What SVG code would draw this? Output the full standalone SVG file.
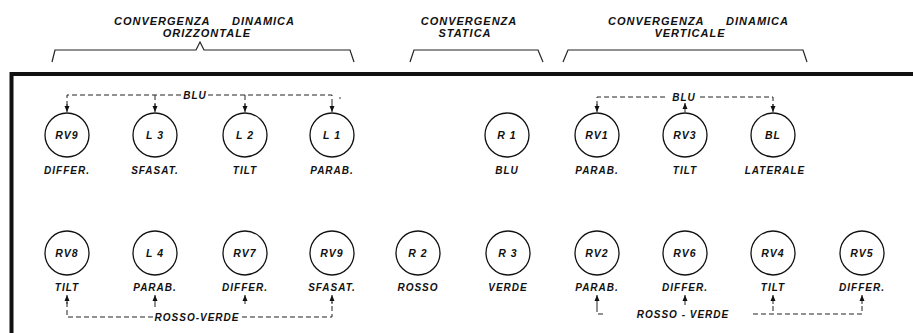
<svg xmlns="http://www.w3.org/2000/svg" width="913" height="333" viewBox="0 0 913 333">
<defs>
<style>
text{font-family:"Liberation Sans",Arial,sans-serif;font-style:italic;font-weight:bold;fill:#111;}
.t{font-size:11px;letter-spacing:1px;}
.n{font-size:10.5px;letter-spacing:1px;text-anchor:middle;}
.l{font-size:10px;letter-spacing:1px;text-anchor:middle;}
.c{fill:#fff;stroke:#111;stroke-width:1.3;}
.d{fill:none;stroke:#222;stroke-width:1;stroke-dasharray:5,3;}
.s{fill:none;stroke:#222;stroke-width:1;marker-end:url(#ah);}
.b{fill:none;stroke:#222;stroke-width:1.2;}
</style>
<marker id="ah" viewBox="0 0 6 6" refX="6" refY="3" markerWidth="6" markerHeight="6" orient="auto" markerUnits="userSpaceOnUse">
<path d="M0,0.5 L6,3 L0,5.5 Z" fill="#111"/>
</marker>
</defs>
<rect width="913" height="333" fill="#fff"/>

<g id="titles">
<text class="t" y="25"><tspan x="114">CONVERGENZA</tspan><tspan x="232">DINAMICA</tspan></text>
<text class="t" x="207" y="37" text-anchor="middle">ORIZZONTALE</text>
<text class="t" x="469" y="25" text-anchor="middle">CONVERGENZA</text>
<text class="t" x="465" y="37" text-anchor="middle">STATICA</text>
<text class="t" y="25"><tspan x="608">CONVERGENZA</tspan><tspan x="726">DINAMICA</tspan></text>
<text class="t" x="690" y="37" text-anchor="middle">VERTICALE</text>
</g>

<g id="brackets">
<path class="b" d="M52,62 L55,50 L196,50 L200,42 L204,50 L350,50 L354,62"/>
<path class="b" d="M410,62 L414,50 L538,50 L543,62"/>
<path class="b" d="M563,62 L568,50 L803,50 L807,62"/>
</g>

<g id="frame">
<path d="M10,74 L913,74" stroke="#111" stroke-width="4" fill="none"/>
<path d="M11.5,72 L11.5,333" stroke="#111" stroke-width="4" fill="none"/>
</g>

<g id="connectors">
<path class="d" d="M67,106 L67,95 L182,95 M208,95 L332,95 L332,106"/>
<path class="d" d="M155,95 L155,106 M245,95 L245,106"/>
<circle cx="340" cy="98" r="0.8" fill="#222"/>
<text class="l" x="195" y="99">BLU</text>
<path class="s" d="M67,104 L67,112"/>
<path class="s" d="M155,104 L155,112"/>
<path class="s" d="M245,104 L245,112"/>
<path class="s" d="M332,104 L332,112"/>

<path class="d" d="M597,106 L597,97 L668,97 M700,97 L773,97 L773,106"/>
<text class="l" x="684" y="101">BLU</text>
<path class="s" d="M597,104 L597,112"/>
<path class="s" d="M773,104 L773,112"/>
<path class="s" d="M685,112 L685,103"/>

<path class="d" d="M67,302 L67,317 L153,317 M242,317 L332,317 L332,302"/>
<path class="s" d="M67,304 L67,295"/>
<path class="s" d="M155,307 L155,295"/>
<path class="s" d="M245,304 L245,295"/>
<path class="s" d="M332,304 L332,295"/>
<text class="l" x="197" y="321">ROSSO-VERDE</text>

<path class="s" d="M597,307 L597,295"/>
<path class="d" d="M597,307 L597,314 L604,314"/>
<path class="s" d="M685,305 L685,295"/>
<text class="l" x="683" y="318">ROSSO - VERDE</text>
<path class="s" d="M773,304 L773,295"/>
<path class="d" d="M753,314 L862,314 L862,303 M773,306 L773,314"/>
<path class="s" d="M862,304 L862,295"/>
</g>

<g id="RV9a"><circle class="c" cx="67" cy="135" r="22"/><text class="n" x="67" y="139">RV9</text><text class="l" x="67" y="174">DIFFER.</text></g>
<g id="L3"><circle class="c" cx="155" cy="135" r="22"/><text class="n" x="155" y="139">L 3</text><text class="l" x="155" y="174">SFASAT.</text></g>
<g id="L2"><circle class="c" cx="245" cy="135" r="22"/><text class="n" x="245" y="139">L 2</text><text class="l" x="245" y="174">TILT</text></g>
<g id="L1"><circle class="c" cx="332" cy="135" r="22"/><text class="n" x="332" y="139">L 1</text><text class="l" x="332" y="174">PARAB.</text></g>
<g id="R1"><circle class="c" cx="507" cy="135" r="22"/><text class="n" x="507" y="139">R 1</text><text class="l" x="507" y="174">BLU</text></g>
<g id="RV1"><circle class="c" cx="597" cy="135" r="22"/><text class="n" x="597" y="139">RV1</text><text class="l" x="597" y="174">PARAB.</text></g>
<g id="RV3"><circle class="c" cx="685" cy="135" r="22"/><text class="n" x="685" y="139">RV3</text><text class="l" x="685" y="174">TILT</text></g>
<g id="BL"><circle class="c" cx="773" cy="135" r="22"/><text class="n" x="773" y="139">BL</text><text class="l" x="775" y="174">LATERALE</text></g>

<g id="RV8"><circle class="c" cx="67" cy="253" r="22"/><text class="n" x="67" y="257">RV8</text><text class="l" x="67" y="291">TILT</text></g>
<g id="L4"><circle class="c" cx="155" cy="253" r="22"/><text class="n" x="155" y="257">L 4</text><text class="l" x="155" y="291">PARAB.</text></g>
<g id="RV7"><circle class="c" cx="245" cy="253" r="22"/><text class="n" x="245" y="257">RV7</text><text class="l" x="245" y="291">DIFFER.</text></g>
<g id="RV9b"><circle class="c" cx="332" cy="253" r="22"/><text class="n" x="332" y="257">RV9</text><text class="l" x="332" y="291">SFASAT.</text></g>
<g id="R2"><circle class="c" cx="418" cy="253" r="22"/><text class="n" x="418" y="257">R 2</text><text class="l" x="418" y="291">ROSSO</text></g>
<g id="R3"><circle class="c" cx="508" cy="253" r="22"/><text class="n" x="508" y="257">R 3</text><text class="l" x="508" y="291">VERDE</text></g>
<g id="RV2"><circle class="c" cx="597" cy="253" r="22"/><text class="n" x="597" y="257">RV2</text><text class="l" x="597" y="291">PARAB.</text></g>
<g id="RV6"><circle class="c" cx="685" cy="253" r="22"/><text class="n" x="685" y="257">RV6</text><text class="l" x="685" y="291">DIFFER.</text></g>
<g id="RV4"><circle class="c" cx="773" cy="253" r="22"/><text class="n" x="773" y="257">RV4</text><text class="l" x="773" y="291">TILT</text></g>
<g id="RV5"><circle class="c" cx="862" cy="253" r="22"/><text class="n" x="862" y="257">RV5</text><text class="l" x="862" y="291">DIFFER.</text></g>
</svg>
